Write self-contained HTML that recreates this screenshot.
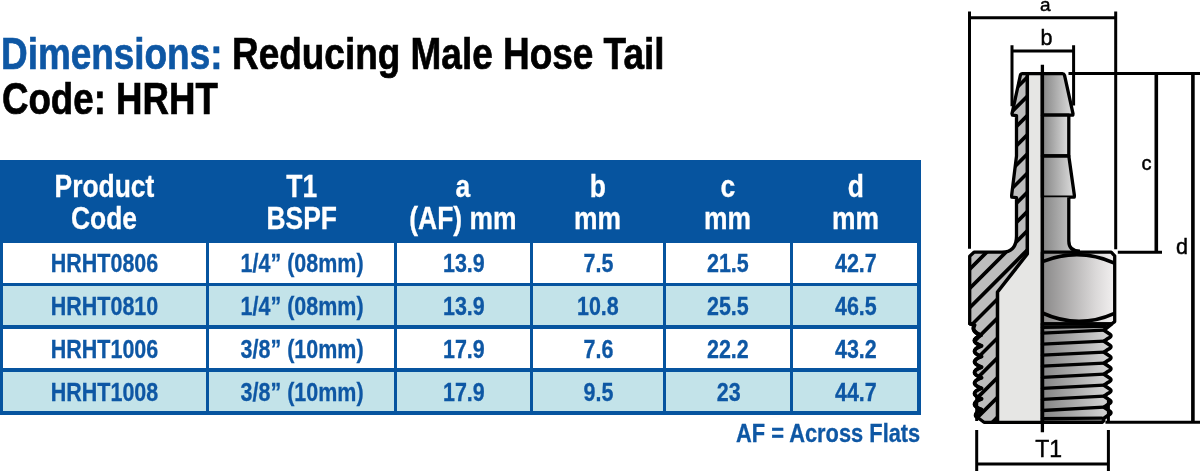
<!DOCTYPE html>
<html lang="en"><head><meta charset="utf-8"><title>Dimensions: Reducing Male Hose Tail</title>
<style>
html,body{margin:0;padding:0;background:#fff;}
body{width:1200px;height:471px;position:relative;overflow:hidden;font-family:"Liberation Sans",sans-serif;font-weight:bold;}
.t{-webkit-text-stroke:.7px currentColor;position:absolute;white-space:nowrap;transform-origin:0 0;line-height:1;}
.c{position:absolute;text-align:center;white-space:nowrap;line-height:1;}
.c span{display:inline-block;transform:scaleX(.808);transform-origin:50% 50%;}
.hd{color:#fff;font-size:32px;-webkit-text-stroke:.3px currentColor;}
.hd span{transform:scaleX(.826) !important;}
.td{color:#0e57a4;font-size:26.6px;-webkit-text-stroke:.3px currentColor;}
.box{position:absolute;}
</style></head><body>
<div class="t" id="t1" style="left:0.6px;top:30.7px;font-size:45px;color:#0e57a4;transform:scaleX(.820);">Dimensions:</div>
<div class="t" id="t2" style="left:232.3px;top:30.7px;font-size:45px;color:#000;transform:scaleX(.821);">Reducing Male Hose Tail</div>
<div class="t" id="t3" style="left:1.7px;top:75.7px;font-size:45px;color:#000;transform:scaleX(.8145);">Code: HRHT</div>
<div class="box" style="left:0;top:160px;width:920.7px;height:254.7px;background:#06549f;"></div>
<div class="c hd" style="left:3.0px;width:202.9px;top:170.1px;"><span>Product</span></div>
<div class="c hd" style="left:3.0px;width:202.9px;top:201.9px;"><span>Code</span></div>
<div class="box" style="left:3.0px;top:242.5px;width:202.9px;height:40.30000000000001px;background:#fff;"></div>
<div class="c td" style="left:3.4px;width:202.9px;top:249.7px;"><span>HRHT0806</span></div>
<div class="box" style="left:3.0px;top:286.1px;width:202.9px;height:39.299999999999955px;background:#c3e3e9;"></div>
<div class="c td" style="left:3.4px;width:202.9px;top:292.9px;"><span>HRHT0810</span></div>
<div class="box" style="left:3.0px;top:328.7px;width:202.9px;height:39.69999999999999px;background:#fff;"></div>
<div class="c td" style="left:3.4px;width:202.9px;top:335.6px;"><span>HRHT1006</span></div>
<div class="box" style="left:3.0px;top:371.7px;width:202.9px;height:39.80000000000001px;background:#c3e3e9;"></div>
<div class="c td" style="left:3.4px;width:202.9px;top:378.7px;"><span>HRHT1008</span></div>
<div class="c hd" style="left:209.20000000000002px;width:184.4px;top:170.1px;"><span>T1</span></div>
<div class="c hd" style="left:209.20000000000002px;width:184.4px;top:201.9px;"><span>BSPF</span></div>
<div class="box" style="left:209.20000000000002px;top:242.5px;width:184.4px;height:40.30000000000001px;background:#fff;"></div>
<div class="c td" style="left:209.60000000000002px;width:184.4px;top:249.7px;"><span>1/4” (08mm)</span></div>
<div class="box" style="left:209.20000000000002px;top:286.1px;width:184.4px;height:39.299999999999955px;background:#c3e3e9;"></div>
<div class="c td" style="left:209.60000000000002px;width:184.4px;top:292.9px;"><span>1/4” (08mm)</span></div>
<div class="box" style="left:209.20000000000002px;top:328.7px;width:184.4px;height:39.69999999999999px;background:#fff;"></div>
<div class="c td" style="left:209.60000000000002px;width:184.4px;top:335.6px;"><span>3/8” (10mm)</span></div>
<div class="box" style="left:209.20000000000002px;top:371.7px;width:184.4px;height:39.80000000000001px;background:#c3e3e9;"></div>
<div class="c td" style="left:209.60000000000002px;width:184.4px;top:378.7px;"><span>3/8” (10mm)</span></div>
<div class="c hd" style="left:396.90000000000003px;width:132.8px;top:170.1px;"><span>a</span></div>
<div class="c hd" style="left:396.90000000000003px;width:132.8px;top:201.9px;"><span>(AF) mm</span></div>
<div class="box" style="left:396.90000000000003px;top:242.5px;width:132.8px;height:40.30000000000001px;background:#fff;"></div>
<div class="c td" style="left:397.3px;width:132.8px;top:249.7px;"><span>13.9</span></div>
<div class="box" style="left:396.90000000000003px;top:286.1px;width:132.8px;height:39.299999999999955px;background:#c3e3e9;"></div>
<div class="c td" style="left:397.3px;width:132.8px;top:292.9px;"><span>13.9</span></div>
<div class="box" style="left:396.90000000000003px;top:328.7px;width:132.8px;height:39.69999999999999px;background:#fff;"></div>
<div class="c td" style="left:397.3px;width:132.8px;top:335.6px;"><span>17.9</span></div>
<div class="box" style="left:396.90000000000003px;top:371.7px;width:132.8px;height:39.80000000000001px;background:#c3e3e9;"></div>
<div class="c td" style="left:397.3px;width:132.8px;top:378.7px;"><span>17.9</span></div>
<div class="c hd" style="left:533.0px;width:129.60000000000002px;top:170.1px;"><span>b</span></div>
<div class="c hd" style="left:533.0px;width:129.60000000000002px;top:201.9px;"><span>mm</span></div>
<div class="box" style="left:533.0px;top:242.5px;width:129.60000000000002px;height:40.30000000000001px;background:#fff;"></div>
<div class="c td" style="left:533.4px;width:129.60000000000002px;top:249.7px;"><span>7.5</span></div>
<div class="box" style="left:533.0px;top:286.1px;width:129.60000000000002px;height:39.299999999999955px;background:#c3e3e9;"></div>
<div class="c td" style="left:533.4px;width:129.60000000000002px;top:292.9px;"><span>10.8</span></div>
<div class="box" style="left:533.0px;top:328.7px;width:129.60000000000002px;height:39.69999999999999px;background:#fff;"></div>
<div class="c td" style="left:533.4px;width:129.60000000000002px;top:335.6px;"><span>7.6</span></div>
<div class="box" style="left:533.0px;top:371.7px;width:129.60000000000002px;height:39.80000000000001px;background:#c3e3e9;"></div>
<div class="c td" style="left:533.4px;width:129.60000000000002px;top:378.7px;"><span>9.5</span></div>
<div class="c hd" style="left:665.9px;width:124.0px;top:170.1px;"><span>c</span></div>
<div class="c hd" style="left:665.9px;width:124.0px;top:201.9px;"><span>mm</span></div>
<div class="box" style="left:665.9px;top:242.5px;width:124.0px;height:40.30000000000001px;background:#fff;"></div>
<div class="c td" style="left:666.3px;width:124.0px;top:249.7px;"><span>21.5</span></div>
<div class="box" style="left:665.9px;top:286.1px;width:124.0px;height:39.299999999999955px;background:#c3e3e9;"></div>
<div class="c td" style="left:666.3px;width:124.0px;top:292.9px;"><span>25.5</span></div>
<div class="box" style="left:665.9px;top:328.7px;width:124.0px;height:39.69999999999999px;background:#fff;"></div>
<div class="c td" style="left:666.3px;width:124.0px;top:335.6px;"><span>22.2</span></div>
<div class="box" style="left:665.9px;top:371.7px;width:124.0px;height:39.80000000000001px;background:#c3e3e9;"></div>
<div class="c td" style="left:666.3px;width:124.0px;top:378.7px;"><span>23</span></div>
<div class="c hd" style="left:793.1999999999999px;width:124.20000000000005px;top:170.1px;"><span>d</span></div>
<div class="c hd" style="left:793.1999999999999px;width:124.20000000000005px;top:201.9px;"><span>mm</span></div>
<div class="box" style="left:793.1999999999999px;top:242.5px;width:124.20000000000005px;height:40.30000000000001px;background:#fff;"></div>
<div class="c td" style="left:793.5999999999999px;width:124.20000000000005px;top:249.7px;"><span>42.7</span></div>
<div class="box" style="left:793.1999999999999px;top:286.1px;width:124.20000000000005px;height:39.299999999999955px;background:#c3e3e9;"></div>
<div class="c td" style="left:793.5999999999999px;width:124.20000000000005px;top:292.9px;"><span>46.5</span></div>
<div class="box" style="left:793.1999999999999px;top:328.7px;width:124.20000000000005px;height:39.69999999999999px;background:#fff;"></div>
<div class="c td" style="left:793.5999999999999px;width:124.20000000000005px;top:335.6px;"><span>43.2</span></div>
<div class="box" style="left:793.1999999999999px;top:371.7px;width:124.20000000000005px;height:39.80000000000001px;background:#c3e3e9;"></div>
<div class="c td" style="left:793.5999999999999px;width:124.20000000000005px;top:378.7px;"><span>44.7</span></div>
<div class="t" id="af" style="left:736.2px;top:420.4px;font-size:26.5px;-webkit-text-stroke:.3px currentColor;color:#0e57a4;transform:scaleX(.824);">AF = Across Flats</div>
<svg style="position:absolute;left:955px;top:0;" width="245" height="471" viewBox="955 0 245 471">
<defs>
<linearGradient id="gs" x1="0" y1="0" x2="1" y2="0"><stop offset="0" stop-color="#858585"/><stop offset="1" stop-color="#dedede"/></linearGradient>
<linearGradient id="gh" x1="0" y1="0" x2="1" y2="0"><stop offset="0" stop-color="#8a8989"/><stop offset="0.75" stop-color="#dcdada"/><stop offset="1" stop-color="#f2f0f0"/></linearGradient>
<linearGradient id="gt" x1="0" y1="0" x2="1" y2="0"><stop offset="0" stop-color="#858585"/><stop offset="1" stop-color="#d8d8d8"/></linearGradient>
<clipPath id="sec"><path id="secp" d="M1042.4,73.6 L1022.5,73.6 Q1020.8,73.6 1020.4,75.2 L1012,113.6 L1012.4,115.2 L1016.5,115.6 L1016.5,156 L1011.6,195.6 L1011.8,197.2 L1016.5,197.6 L1016.5,236 Q1016.5,252.2 1002,252.2 L974,252.2 L969.7,256.2 L969.7,323.6 L974.5,325.2 Q970.5,331.0 981,335.3 Q967.6,340.6 981.5,345.9 Q967.6,351.2 981.5,356.5 Q967.6,361.8 981.5,367.1 Q967.6,372.4 981.5,377.7 Q967.6,383.0 981.5,388.3 Q967.6,393.6 981.5,398.9 Q967.6,404.2 981.5,409.5 Q972,414.8 978,417.8 L984,422.3 L1042.4,422.3 Z"/></clipPath>
</defs>
<path d="M1042.4,73.6 L1022.5,73.6 Q1020.8,73.6 1020.4,75.2 L1012,113.6 L1012.4,115.2 L1016.5,115.6 L1016.5,156 L1011.6,195.6 L1011.8,197.2 L1016.5,197.6 L1016.5,236 Q1016.5,252.2 1002,252.2 L974,252.2 L969.7,256.2 L969.7,323.6 L974.5,325.2 Q970.5,331.0 981,335.3 Q967.6,340.6 981.5,345.9 Q967.6,351.2 981.5,356.5 Q967.6,361.8 981.5,367.1 Q967.6,372.4 981.5,377.7 Q967.6,383.0 981.5,388.3 Q967.6,393.6 981.5,398.9 Q967.6,404.2 981.5,409.5 Q972,414.8 978,417.8 L984,422.3 L1042.4,422.3 Z" fill="#bdbdbd"/>
<g clip-path="url(#sec)"><path d="M960,125.3 L1045,40.3 M960,144.5 L1045,59.5 M960,163.7 L1045,78.7 M960,182.9 L1045,97.9 M960,202.1 L1045,117.1 M960,221.3 L1045,136.3 M960,240.5 L1045,155.5 M960,259.7 L1045,174.7 M960,278.9 L1045,193.9 M960,298.1 L1045,213.1 M960,317.3 L1045,232.3 M960,336.5 L1045,251.5 M960,355.7 L1045,270.7 M960,375.5 L1045,290.5 M960,395.3 L1045,310.3 M960,415.1 L1045,330.1 M960,434.9 L1045,349.9 M960,454.7 L1045,369.7 M960,474.5 L1045,389.5" stroke="#000" stroke-width="3.7" fill="none"/></g>
<path d="M1042.4,75 L1027.3,75 L1027.3,254 L997.5,292 L997.5,421 L1042.4,421 Z" fill="#e6e6e4"/>
<path d="M1027.3,75 L1027.3,254 L997.5,292 L997.5,421" fill="none" stroke="#000" stroke-width="3.5" stroke-linejoin="round"/>
<path d="M1042.4,73.6 L1022.5,73.6 Q1020.8,73.6 1020.4,75.2 L1012,113.6 L1012.4,115.2 L1016.5,115.6 L1016.5,156 L1011.6,195.6 L1011.8,197.2 L1016.5,197.6 L1016.5,236 Q1016.5,252.2 1002,252.2 L974,252.2 L969.7,256.2 L969.7,323.6 L974.5,325.2 Q970.5,331.0 981,335.3 Q967.6,340.6 981.5,345.9 Q967.6,351.2 981.5,356.5 Q967.6,361.8 981.5,367.1 Q967.6,372.4 981.5,377.7 Q967.6,383.0 981.5,388.3 Q967.6,393.6 981.5,398.9 Q967.6,404.2 981.5,409.5 Q972,414.8 978,417.8 L984,422.3 L1042.4,422.3 Z" fill="none" stroke="#000" stroke-width="3.3" stroke-linejoin="round"/>
<path d="M970,323.6 L974.5,325.2 Q970.5,331.0 981,335.3 Q967.6,340.6 981.5,345.9 Q967.6,351.2 981.5,356.5 Q967.6,361.8 981.5,367.1 Q967.6,372.4 981.5,377.7 Q967.6,383.0 981.5,388.3 Q967.6,393.6 981.5,398.9 Q967.6,404.2 981.5,409.5 Q972,414.8 978,417.8" fill="none" stroke="#000" stroke-width="3.9" stroke-linejoin="round" stroke-linecap="round"/>
<path d="M1042.4,73.6 L1062.5,73.6 Q1064,73.6 1064.5,75.2 L1073,113.6 L1072.8,115.2 L1042.4,115.2 Z" fill="url(#gs)" stroke="#000" stroke-width="3.3" stroke-linejoin="round"/>
<path d="M1042.4,115.2 L1068.8,115.2 L1068.8,156 L1042.4,156 Z" fill="url(#gs)" stroke="#000" stroke-width="3.3" stroke-linejoin="round"/>
<path d="M1042.4,156 L1068.8,156 L1074.4,195.6 L1074.2,197.2 L1042.4,197.2 Z" fill="url(#gs)" stroke="#000" stroke-width="3.3" stroke-linejoin="round"/>
<path d="M1042.4,197.2 L1068.8,197.2 L1068.8,241 Q1068.8,251.2 1079,251.2 L1084,252.2 L1042.4,252.2 Z" fill="url(#gs)" stroke="none"/>
<path d="M1068.8,197.2 L1068.8,241 Q1068.8,251.2 1080,251.2" fill="none" stroke="#000" stroke-width="3.3"/>
<path d="M1042.4,252.2 L1111.2,252.2 L1114.7,255.8 L1114.7,321.6 L1111.5,324 L1042.4,324 Z" fill="url(#gh)" stroke="#000" stroke-width="3.3" stroke-linejoin="round"/>
<path d="M1042.4,261.6 Q1079,246.8 1114.5,263.2" fill="none" stroke="#000" stroke-width="3.6"/>
<path d="M1042.4,313 Q1078.7,329.6 1114.5,313.4" fill="none" stroke="#000" stroke-width="3.6"/>
<path d="M1042.4,324 L1111.5,324 L1104,330.2 L1108.2,333.1 Q1113.6,335.7 1108.2,338.3 L1104,341.2 L1108.2,344.1 Q1113.6,346.7 1108.2,349.3 L1104,352.2 L1108.2,355.1 Q1113.6,357.7 1108.2,360.3 L1104,363.2 L1108.2,366.1 Q1113.6,368.7 1108.2,371.3 L1104,374.2 L1108.2,377.1 Q1113.6,379.7 1108.2,382.3 L1104,385.2 L1108.2,388.1 Q1113.6,390.7 1108.2,393.3 L1104,396.2 L1108.2,399.1 Q1113.6,401.7 1108.2,404.3 L1104,407.2 L1108.2,410.1 Q1113.6,412.7 1108.2,415.3 L1104,418.2 L1103.5,420.5 Q1103,422.3 1101,422.3 L1042.4,422.3 Z" fill="url(#gt)" stroke="#000" stroke-width="3.6" stroke-linejoin="round"/>
<path d="M1042.4,327.3 L1105,326.3 M1042.4,333.1 L1104,330.2 M1042.4,344.2 L1104,341.2 M1042.4,355.2 L1104,352.2 M1042.4,366.2 L1104,363.2 M1042.4,377.3 L1104,374.2 M1042.4,388.4 L1104,385.2 M1042.4,399.4 L1104,396.2 M1042.4,410.5 L1104,407.2 M1042.4,418.6 L1102,418.2" fill="none" stroke="#000" stroke-width="3.3" stroke-linecap="round"/>
<path d="M969.5,11.5 L969.5,248.8 M1115.7,11.5 L1115.7,249.3 M969.5,17.8 L1115.7,17.8 M1012,45.3 L1012,106.3 M1073.6,45.3 L1073.6,105.6 M1012,51 L1073.6,51 M1068.5,73.6 L1200,73.6 M1117.8,252.2 L1162,252.2 M1105.4,422.3 L1200,422.3 M976.7,430 L976.7,471 M1108.4,430 L1108.4,471 M976.7,464 L1108.4,464 M976.7,395 L976.7,421 M1108.4,399 L1108.4,421" fill="none" stroke="#000" stroke-width="3.0"/>
<path d="M1156.3,73.6 L1156.3,252.2 M1192.9,73.6 L1192.9,422.3" fill="none" stroke="#000" stroke-width="3.6"/>
<path d="M1042.4,64.7 L1042.4,432.3" fill="none" stroke="#000" stroke-width="3.3"/>
<g font-family="'Liberation Sans', sans-serif" fill="#000" stroke="#000" stroke-width=".45" font-weight="normal" text-anchor="middle">
<text x="1045.4" y="11.3" font-size="19">a</text>
<text x="1046.6" y="45.3" font-size="21.5">b</text>
<text x="1146.5" y="169.7" font-size="20">c</text>
<text x="1182" y="254.2" font-size="21.5">d</text>
<text x="1048.6" y="456.9" font-size="23">T1</text>
</g>
</svg>
</body></html>
